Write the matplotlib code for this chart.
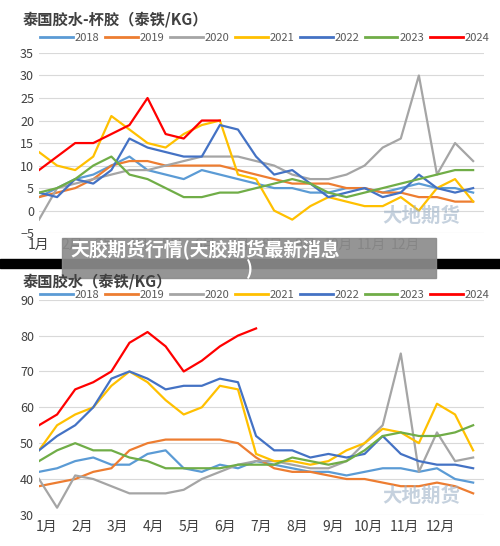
import numpy as np
import matplotlib.pyplot as plt
from matplotlib.patches import Rectangle

plt.rcParams['font.family'] = ['Noto Sans CJK SC', 'DejaVu Sans']

years = ['2018', '2019', '2020', '2021', '2022', '2023', '2024']
colors = ['#5B9BD5', '#ED7D31', '#A5A5A5', '#FFC000', '#4472C4', '#70AD47', '#FF0000']
months = ['1月', '2月', '3月', '4月', '5月', '6月', '7月', '8月', '9月', '10月', '11月', '12月']

# semi-monthly readings, 杯胶
cup = {
    '2018': [3, 5, 7, 8, 10, 12, 9, 8, 7, 9, 8, 7, 6, 5, 5, 4, 4, 5, 5, 4, 5, 6, 5, 5, 4],
    '2019': [3, 4, 5, 7, 10, 11, 11, 10, 10, 10, 10, 9, 8, 7, 6, 6, 6, 5, 5, 4, 4, 3, 3, 2, 2],
    '2020': [-2, 5, 6, 7, 8, 9, 9, 10, 11, 12, 12, 12, 11, 10, 8, 7, 7, 8, 10, 14, 16, 30, 8, 15, 11],
    '2021': [13, 10, 9, 12, 21, 18, 15, 14, 17, 19, 20, 8, 7, 0, -2, 1, 3, 2, 1, 1, 3, 0, 5, 7, 2],
    '2022': [4, 3, 7, 6, 9, 16, 14, 13, 12, 12, 19, 18, 12, 8, 9, 6, 3, 4, 5, 3, 4, 8, 5, 4, 5],
    '2023': [4, 5, 7, 10, 12, 8, 7, 5, 3, 3, 4, 4, 5, 6, 7, 6, 4, 3, 4, 5, 6, 7, 8, 9, 9],
    '2024': [9, 12, 15, 15, 17, 19, 25, 17, 16, 20, 20],
}
# semi-monthly readings, 胶水
latex = {
    '2018': [42, 43, 45, 46, 44, 44, 47, 48, 43, 42, 44, 43, 45, 44, 43, 42, 42, 41, 42, 43, 43, 42, 43, 40, 39],
    '2019': [38, 39, 40, 42, 43, 48, 50, 51, 51, 51, 51, 50, 46, 43, 42, 42, 41, 40, 40, 39, 38, 38, 39, 38, 36],
    '2020': [40, 32, 41, 40, 38, 36, 36, 36, 37, 40, 42, 44, 45, 45, 44, 43, 43, 45, 50, 55, 75, 42, 53, 45, 46],
    '2021': [48, 55, 58, 60, 66, 70, 67, 62, 58, 60, 66, 65, 47, 45, 45, 44, 45, 48, 50, 54, 53, 50, 61, 58, 48],
    '2022': [48, 52, 55, 60, 68, 70, 68, 65, 66, 66, 68, 67, 52, 48, 48, 46, 47, 46, 47, 52, 47, 45, 44, 44, 43],
    '2023': [45, 48, 50, 48, 48, 46, 45, 43, 43, 43, 43, 44, 44, 44, 46, 45, 44, 45, 48, 52, 53, 52, 52, 53, 55],
    '2024': [55, 58, 65, 67, 70, 78, 81, 77, 70, 73, 77, 80, 82],
}

fig = plt.figure(figsize=(5.0, 5.46), dpi=100)


def draw(ax, data, ylim, step, tickpos, title, title_y):
    for y, c in zip(years, colors):
        v = data[y]
        ax.plot(np.arange(len(v)) * 0.5, v, color=c, lw=1.6)
    ax.set_xlim(0, 12.3)
    ax.set_ylim(*ylim)
    ax.set_yticks(np.arange(ylim[0], ylim[1] + 1, step))
    ax.set_xticks(tickpos)
    ax.set_xticklabels(months)
    ax.grid(axis='y', color='#D9D9D9', lw=0.8)
    for s in ax.spines.values():
        s.set_visible(False)
    ax.tick_params(length=0, labelsize=9, colors='#404040')
    ax.tick_params(axis='x', labelsize=10)
    fig.text(0.045, title_y, title, fontsize=11, fontweight='bold', color='#404040', zorder=10)
    ax.text(0.86, 0.06, '大地期货', transform=ax.transAxes, fontsize=14, color='#9FB3C8',
            alpha=0.6, ha='center', fontweight='bold')


ax1 = fig.add_axes([0.078, 0.573, 0.89, 0.33])
draw(ax1, cup, (-5, 35), 5, np.arange(12) * 0.92, '泰国胶水-杯胶（泰铁/KG）', 0.955)
ax2 = fig.add_axes([0.078, 0.057, 0.89, 0.394])
draw(ax2, latex, (30, 90), 10, np.arange(12) * 0.99 + 0.2, '泰国胶水（泰铁/KG）', 0.476)

for ax, ly in [(ax1, 0.925), (ax2, 0.455)]:
    for i, (y, c) in enumerate(zip(years, colors)):
        x0 = 0.08 + i * 0.13
        fig.add_artist(plt.Line2D([x0, x0 + 0.065], [ly + 0.007, ly + 0.007], color=c, lw=2))
        fig.text(x0 + 0.07, ly, y, fontsize=8, color='#595959')

# black band and overlay title
fig.add_artist(Rectangle((0, 0.51), 1, 0.015, color='black', transform=fig.transFigure))
fig.add_artist(Rectangle((0.124, 0.49), 0.748, 0.075, color='#8C8C8C', alpha=0.92,
                         transform=fig.transFigure))
fig.text(0.14, 0.53, '天胶期货行情(天胶期货最新消息', fontsize=13.5, fontweight='bold', color='white')
fig.text(0.49, 0.496, ')', fontsize=13.5, fontweight='bold', color='white')

fig.savefig('out.png')
